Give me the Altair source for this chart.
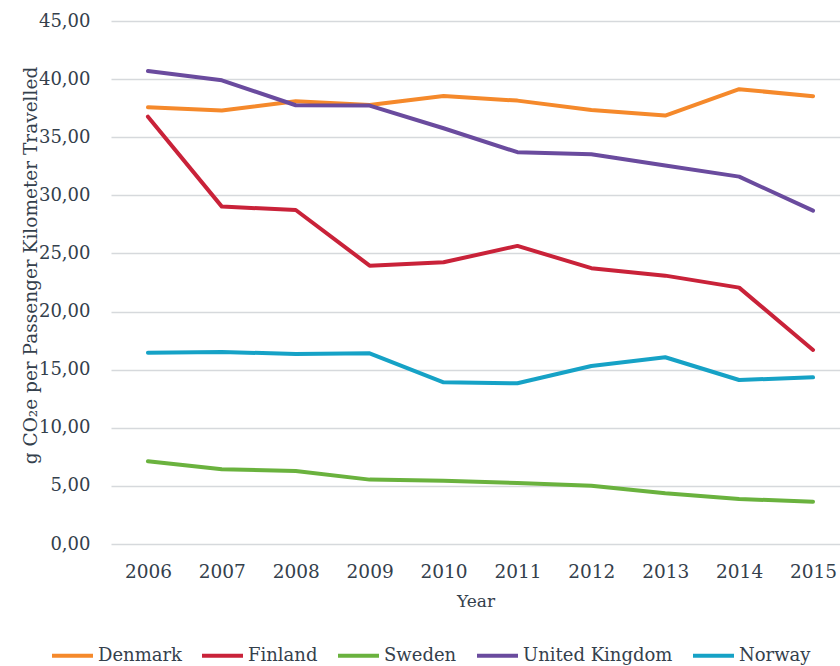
import altair as alt
import pandas as pd

years = [2006, 2007, 2008, 2009, 2010, 2011, 2012, 2013, 2014, 2015]
countries = ["Denmark", "Finland", "Sweden", "United Kingdom", "Norway"]
colors = ["#F5892B", "#C92239", "#6AB23E", "#6A4B9E", "#16A2C6"]

denmark = [37.58, 37.29, 38.10, 37.78, 38.55, 38.15, 37.35, 36.86, 39.13, 38.53]
finland = [36.77, 29.03, 28.74, 23.95, 24.24, 25.65, 23.73, 23.09, 22.06, 16.70]
sweden = [7.12, 6.43, 6.28, 5.54, 5.45, 5.25, 5.02, 4.36, 3.87, 3.64]
united_kingdom = [40.70, 39.90, 37.75, 37.72, 35.77, 33.71, 33.54, 32.56, 31.61, 28.68]
norway = [16.46, 16.52, 16.35, 16.41, 13.91, 13.83, 15.32, 16.07, 14.11, 14.34]

series = {
    "Denmark": denmark,
    "Finland": finland,
    "Sweden": sweden,
    "United Kingdom": united_kingdom,
    "Norway": norway,
}

rows = []
for c in countries:
    for y, v in zip(years, series[c]):
        rows.append({"Year": y, "Country": c, "Value": v})
df = pd.DataFrame(rows)

FONT = "DejaVu Serif"
TXT = "#34404c"

chart = (
    alt.Chart(df)
    .mark_line(strokeWidth=4, strokeCap="round", strokeJoin="round")
    .encode(
        x=alt.X(
            "Year:Q",
            scale=alt.Scale(domain=[2005.5, 2015.365], nice=False, zero=False),
            axis=alt.Axis(
                values=years,
                format="d",
                title="Year",
                grid=False,
                domain=False,
                ticks=False,
                labelPadding=18,
                labelFontSize=18.5,
                titleFontSize=17,
                titleFontWeight="normal",
                titleY=57,
                titleBaseline="middle",
            ),
        ),
        y=alt.Y(
            "Value:Q",
            scale=alt.Scale(domain=[0, 45], nice=False),
            axis=alt.Axis(
                values=[0, 5, 10, 15, 20, 25, 30, 35, 40, 45],
                labelExpr="replace(format(datum.value, '.2f'), '.', ',')",
                title="g CO₂e per Passenger Kilometer Travelled",
                grid=True,
                gridColor="#d6d9dc",
                gridWidth=1.5,
                domain=False,
                ticks=False,
                labelPadding=21,
                labelFontSize=18,
                titleFontSize=18.5,
                titleFontWeight="normal",
                titleX=-81,
                titleY=244,
                titleAngle=-90,
                titleAlign="center",
                titleBaseline="middle",
            ),
        ),
        color=alt.Color(
            "Country:N",
            sort=countries,
            scale=alt.Scale(domain=countries, range=colors),
            legend=alt.Legend(
                title=None,
                orient="none",
                direction="horizontal",
                legendX=-61,
                legendY=612,
                symbolType="stroke",
                symbolSize=1681,
                symbolStrokeWidth=4,
                labelFontSize=18,
                labelOffset=3,
                columnPadding=12,
            ),
        ),
    )
    .properties(
        width=729,
        height=523,
        autosize=alt.AutoSizeParams(type="none"),
        padding={"left": 111, "top": 21, "right": 0, "bottom": 122},
    )
    .configure(font=FONT)
    .configure_view(stroke=None)
    .configure_axis(labelColor=TXT, titleColor=TXT, labelFont=FONT, titleFont=FONT)
    .configure_legend(labelColor=TXT, labelFont=FONT)
)

chart.save("out.html", embed_options={"renderer": "svg", "actions": False})
